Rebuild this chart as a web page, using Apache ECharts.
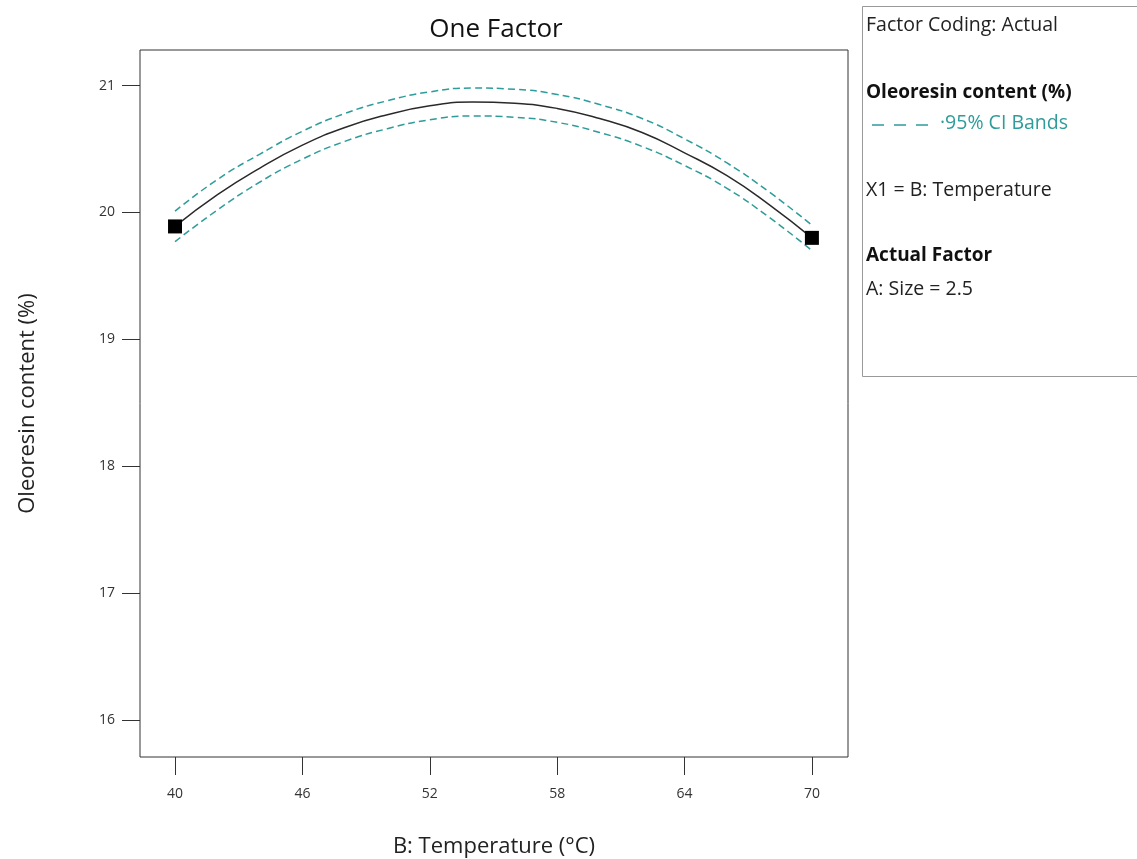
<!DOCTYPE html>
<html>
<head>
<meta charset="utf-8">
<script src="https://cdn.jsdelivr.net/npm/echarts@6/dist/echarts.min.js"></script>
<style>
html,body{margin:0;padding:0;background:#fff;}
#chart{width:1137px;height:859px;}
</style>
</head>
<body>
<div id="chart"></div>
<script>
// ---- data ----
const temps = [40,42,44,46,48,50,52,54,56,58,60,62,64,66,68,70];
const fitValues = [19.89,20.14,20.35,20.53,20.67,20.77,20.84,20.87,20.86,20.82,20.74,20.63,20.47,20.29,20.06,19.80];
const upperCI = [20.01,20.26,20.46,20.64,20.78,20.88,20.95,20.98,20.97,20.93,20.85,20.74,20.58,20.39,20.16,19.90];
const lowerCI = [19.77,20.02,20.24,20.42,20.56,20.66,20.73,20.76,20.75,20.71,20.63,20.52,20.37,20.19,19.96,19.70];
const designX = [40,70];
const designY = [19.89,19.80];
const xTicks = [40,46,52,58,64,70];
const yTicks = [16,17,18,19,20,21];
const titleText = 'One Factor';
const xName = 'B: Temperature (°C)';
const yName = 'Oleoresin content (%)';
const infoLines = ['Factor Coding: Actual','Oleoresin content (%)','·95% CI Bands','X1 = B: Temperature','Actual Factor','A: Size = 2.5'];

const FONT = '"Open Sans", "Noto Sans", sans-serif';
const TEAL = '#2e9c9a';
const zip = (xs, ys) => xs.map((x, i) => [x, ys[i]]);

const chart = echarts.init(document.getElementById('chart'));
chart.setOption({
  animation: false,
  backgroundColor: '#fff',
  title: {
    text: titleText, left: 491, top: 12, textAlign: 'center',
    textStyle: {fontFamily: FONT, fontSize: 26, fontWeight: 'normal', color: '#111'}
  },
  grid: {left: 140, right: 289, top: 50, bottom: 102, show: true, borderColor: '#333', borderWidth: 1,
         backgroundColor: 'transparent', outerBoundsMode: 'none', containLabel: false},
  xAxis: {
    type: 'value', min: 38.35, max: 71.7,
    name: xName, nameLocation: 'middle', nameGap: 79,
    nameTextStyle: {fontFamily: FONT, fontSize: 22, color: '#222'},
    axisLine: {show: false},
    axisTick: {show: true, length: 18, customValues: xTicks, lineStyle: {color: '#333'}},
    axisLabel: {customValues: xTicks, fontFamily: FONT, fontSize: 14, color: '#333', margin: 30},
    splitLine: {show: false}
  },
  yAxis: {
    type: 'value', min: 15.71, max: 21.28,
    name: yName, nameLocation: 'middle', nameGap: 101, nameRotate: 90,
    nameTextStyle: {fontFamily: FONT, fontSize: 22, color: '#222'},
    axisLine: {show: false},
    axisTick: {show: true, length: 18, customValues: yTicks, lineStyle: {color: '#333'}},
    axisLabel: {customValues: yTicks, fontFamily: FONT, fontSize: 14, color: '#333', margin: 25},
    splitLine: {show: false}
  },
  series: [
    {type: 'line', data: zip(temps, upperCI), smooth: true, symbol: 'none',
     lineStyle: {color: TEAL, width: 1.5, type: [7, 4]}},
    {type: 'line', data: zip(temps, lowerCI), smooth: true, symbol: 'none',
     lineStyle: {color: TEAL, width: 1.5, type: [7, 4]}},
    {type: 'line', data: zip(temps, fitValues), smooth: true, symbol: 'none',
     lineStyle: {color: '#2a2a2a', width: 1.5}},
    {type: 'scatter', data: zip(designX, designY), symbol: 'rect', symbolSize: 14,
     itemStyle: {color: '#000', opacity: 1}, z: 5}
  ],
  graphic: [
    {type: 'rect', shape: {x: 862.5, y: 6.5, width: 300, height: 370}, style: {fill: '#fff', stroke: '#999', lineWidth: 1}},
    {type: 'text', left: 866, top: 15, style: {text: infoLines[0], font: '19.5px ' + FONT, fill: '#222'}},
    {type: 'text', left: 866, top: 83, style: {text: infoLines[1], font: 'bold 19px ' + FONT, fill: '#111'}},
    {type: 'line', shape: {x1: 872, y1: 125, x2: 937, y2: 125}, style: {stroke: TEAL, lineWidth: 1.5, lineDash: [12, 10]}},
    {type: 'text', left: 940, top: 113, style: {text: infoLines[2], font: '19.5px ' + FONT, fill: TEAL}},
    {type: 'text', left: 866, top: 180, style: {text: infoLines[3], font: '19.5px ' + FONT, fill: '#222'}},
    {type: 'text', left: 866, top: 246, style: {text: infoLines[4], font: 'bold 19px ' + FONT, fill: '#111'}},
    {type: 'text', left: 866, top: 279, style: {text: infoLines[5], font: '19.5px ' + FONT, fill: '#222'}}
  ]
});
</script>
</body>
</html>
